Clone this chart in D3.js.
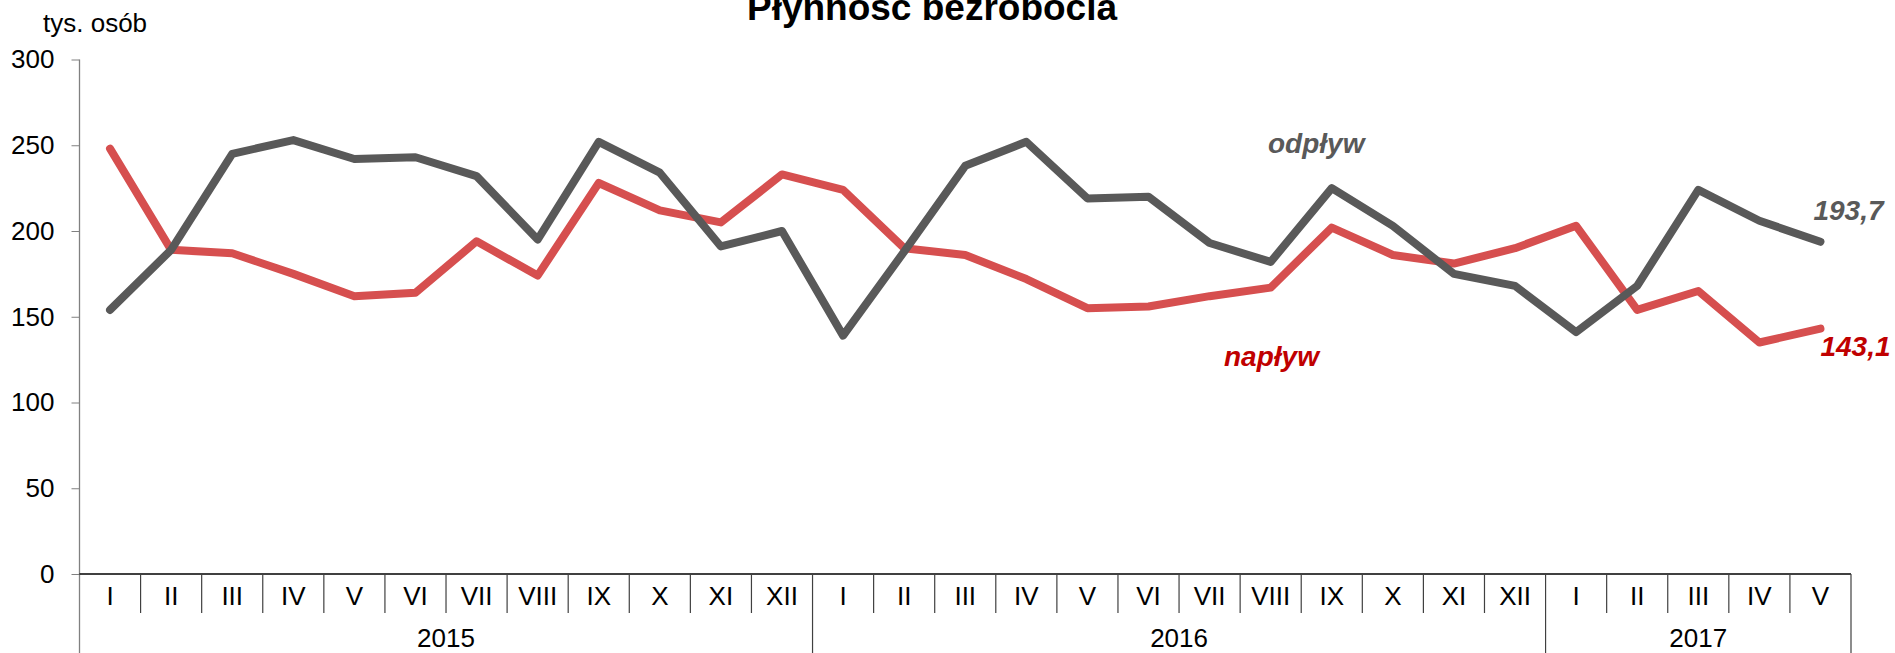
<!DOCTYPE html>
<html>
<head>
<meta charset="utf-8">
<script src="https://cdn.jsdelivr.net/npm/d3@7"></script>
<style>
    body { margin: 0; background: #fff; }
    svg { display: block; font-family: "Liberation Sans", Arial, sans-serif; }
</style>
</head>
<body>
<div id="chart"></div>
<script>
// values (tys. osób)
var years = ["2015", "2016", "2017"];
var monthsPerYear = [12, 12, 5];
var monthNames = ["I", "II", "III", "IV", "V", "VI", "VII", "VIII", "IX", "X", "XI", "XII"];
var naplyw = [248, 189, 187, 175, 162, 164, 194, 174, 228, 212, 205, 233,
              224, 190, 186, 172, 155, 156, 162, 167, 202, 186, 181, 190,
              203, 154, 165, 135, 143.1];
var odplyw = [154, 189, 245, 253, 242, 243, 232, 195, 252, 234, 191, 200,
              139, 188, 238, 252, 219, 220, 193, 182, 225, 203, 175, 168,
              141, 168, 224, 206, 193.7];
var yTicks = [0, 50, 100, 150, 200, 250, 300];

(function() {
    var width = 1895, height = 653;
    var left = 79.5, right = 1851, top = 59.5, bottom = 574;

    var months = [];
    years.forEach(function(yr, yi) {
        for (var m = 0; m < monthsPerYear[yi]; m++) {
            months.push({ key: yr + "-" + m, label: monthNames[m], year: yr });
        }
    });

    var svg = d3.select("#chart")
        .append("svg")
        .attr("width", width)
        .attr("height", height);

    var x = d3.scaleBand()
        .domain(months.map(function(d) { return d.key; }))
        .range([left, right])
        .padding(0);

    var y = d3.scaleLinear()
        .domain([0, 300])
        .range([bottom, top]);

    // title (its top is cut by the page edge, as in the original)
    svg.append("text")
        .attr("x", 932)
        .attr("y", 20)
        .attr("text-anchor", "middle")
        .style("font-size", "37px")
        .style("font-weight", "bold")
        .text("Płynność bezrobocia");

    svg.append("text")
        .attr("x", 43)
        .attr("y", 31.5)
        .style("font-size", "26px")
        .text("tys. osób");

    // y axis
    var yAxis = svg.append("g")
        .attr("transform", "translate(" + left + ",0)")
        .call(d3.axisLeft(y).tickValues(yTicks).tickSize(8).tickPadding(17));
    yAxis.select(".domain").remove();
    yAxis.selectAll(".tick line").attr("stroke", "#808080");
    yAxis.selectAll("text").style("font-size", "26px").attr("fill", "#000");

    svg.append("line")
        .attr("x1", left).attr("x2", left)
        .attr("y1", top).attr("y2", height)
        .attr("stroke", "#808080")
        .attr("stroke-width", 1.3);

    // x axis: month labels
    var xAxis = svg.append("g")
        .attr("transform", "translate(0," + bottom + ")")
        .call(d3.axisBottom(x).tickSize(0).tickPadding(13)
            .tickFormat(function(k, i) { return months[i].label; }));
    xAxis.select(".domain").remove();
    xAxis.selectAll("text").style("font-size", "26px").attr("fill", "#000");

    svg.append("line")
        .attr("x1", left).attr("x2", right)
        .attr("y1", bottom).attr("y2", bottom)
        .attr("stroke", "#000")
        .attr("stroke-width", 1.3);

    // separators between months / years
    var yearStarts = [];
    var acc = 0;
    monthsPerYear.forEach(function(n) { yearStarts.push(acc); acc += n; });
    yearStarts.push(acc);

    function edge(i) {
        return i < months.length ? x(months[i].key) : x(months[i - 1].key) + x.bandwidth();
    }

    svg.append("g")
        .selectAll("line")
        .data(d3.range(months.length + 1))
        .enter()
        .append("line")
        .attr("x1", edge)
        .attr("x2", edge)
        .attr("y1", bottom)
        .attr("y2", function(i) { return yearStarts.indexOf(i) >= 0 ? height : 613; })
        .attr("stroke", function(i) { return i === 0 ? "none" : "#404040"; })
        .attr("stroke-width", 1.2);

    // year labels
    svg.append("g")
        .selectAll("text")
        .data(years)
        .enter()
        .append("text")
        .attr("x", function(d, i) { return (edge(yearStarts[i]) + edge(yearStarts[i + 1])) / 2; })
        .attr("y", 647)
        .attr("text-anchor", "middle")
        .style("font-size", "26px")
        .text(function(d) { return d; });

    // lines
    var line = d3.line()
        .x(function(d, i) { return x(months[i].key) + x.bandwidth() / 2; })
        .y(function(d) { return y(d); });

    svg.append("path")
        .datum(naplyw)
        .attr("d", line)
        .attr("fill", "none")
        .attr("stroke", "#D64F4F")
        .attr("stroke-width", 8)
        .attr("stroke-linecap", "round")
        .attr("stroke-linejoin", "round");

    svg.append("path")
        .datum(odplyw)
        .attr("d", line)
        .attr("fill", "none")
        .attr("stroke", "#595959")
        .attr("stroke-width", 8)
        .attr("stroke-linecap", "round")
        .attr("stroke-linejoin", "round");

    // series names and last values
    var fmt = function(v) { return String(v).replace(".", ","); };
    var last = months.length - 1;
    var lastX = x(months[last].key) + x.bandwidth() / 2;

    svg.append("text")
        .attr("x", 1268).attr("y", 153)
        .style("font-size", "28px").style("font-weight", "bold").style("font-style", "italic")
        .attr("fill", "#595959")
        .text("odpływ");

    svg.append("text")
        .attr("x", 1224).attr("y", 366)
        .style("font-size", "28px").style("font-weight", "bold").style("font-style", "italic")
        .attr("fill", "#C00000")
        .text("napływ");

    svg.append("text")
        .attr("x", lastX - 7).attr("y", y(odplyw[last]) - 22)
        .style("font-size", "28px").style("font-weight", "bold").style("font-style", "italic")
        .attr("fill", "#595959")
        .text(fmt(odplyw[last]));

    svg.append("text")
        .attr("x", lastX).attr("y", y(naplyw[last]) + 27)
        .style("font-size", "28px").style("font-weight", "bold").style("font-style", "italic")
        .attr("fill", "#C00000")
        .text(fmt(naplyw[last]));
})();
</script>
</body>
</html>
